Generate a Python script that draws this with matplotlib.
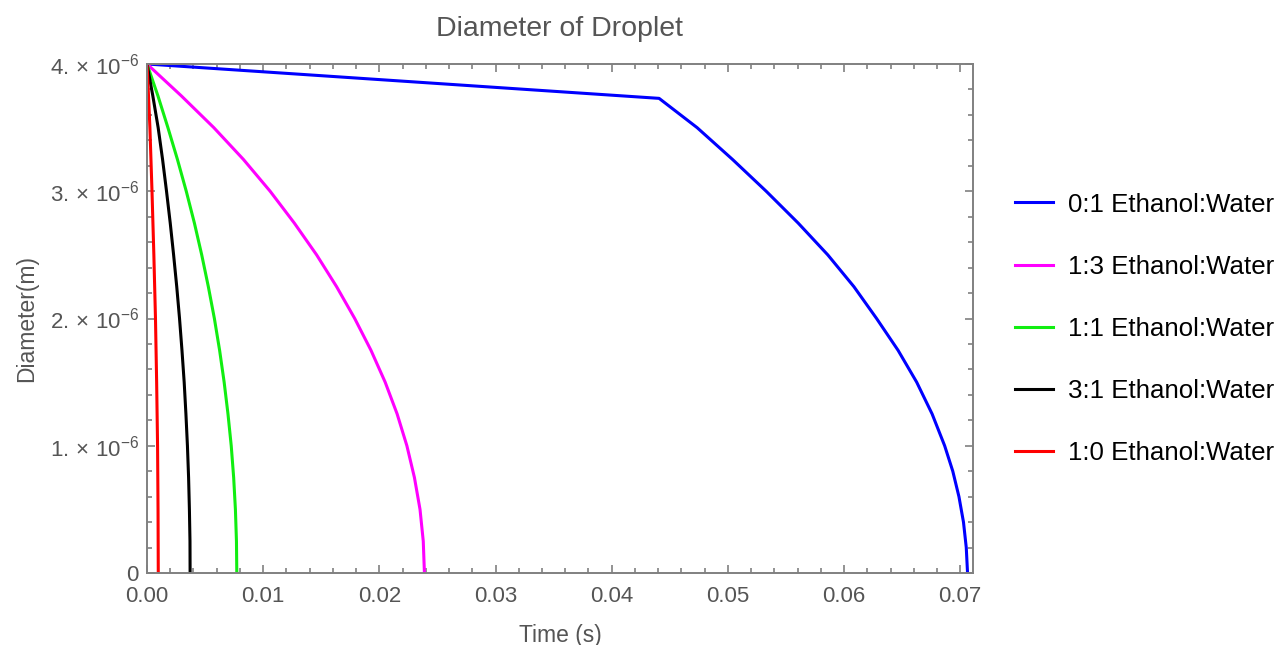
import matplotlib
matplotlib.use("Agg")
import matplotlib.pyplot as plt
from matplotlib.ticker import MultipleLocator, FixedLocator, FixedFormatter

plt.rcParams['font.family'] = ['Liberation Sans', 'DejaVu Sans']
plt.rcParams['mathtext.fontset'] = 'custom'
plt.rcParams['mathtext.rm'] = 'Liberation Sans'
plt.rcParams['mathtext.it'] = 'Liberation Sans'

# ---- data (time in s, diameter in m) ----
t_01 = [0.0, 0.04408, 0.04735, 0.05040, 0.05330, 0.05605, 0.05860, 0.06085, 0.06280,
        0.06465, 0.06625, 0.06758, 0.06866, 0.06936, 0.06989, 0.07028, 0.07052, 0.07063]
d_01 = [4.0e-6, 3.73e-6, 3.50e-6, 3.25e-6, 3.00e-6, 2.75e-6, 2.50e-6, 2.25e-6, 2.00e-6,
        1.75e-6, 1.50e-6, 1.25e-6, 1.00e-6, 0.80e-6, 0.60e-6, 0.40e-6, 0.20e-6, 0.0]

t_13 = [0.0, 0.00295, 0.00575, 0.00830, 0.01060, 0.01268, 0.01460, 0.01632, 0.01788,
        0.01928, 0.02050, 0.02153, 0.02237, 0.02302, 0.02350, 0.02378, 0.02388]
d_13 = [4.0e-6, 3.75e-6, 3.50e-6, 3.25e-6, 3.00e-6, 2.75e-6, 2.50e-6, 2.25e-6, 2.00e-6,
        1.75e-6, 1.50e-6, 1.25e-6, 1.00e-6, 0.75e-6, 0.50e-6, 0.25e-6, 0.0]

t_11 = [0.0, 0.00094, 0.00180, 0.00262, 0.00338, 0.00408, 0.00471, 0.00528, 0.00580,
        0.00625, 0.00664, 0.00697, 0.00725, 0.00746, 0.00761, 0.00770, 0.00773]
d_11 = [4.0e-6, 3.75e-6, 3.50e-6, 3.25e-6, 3.00e-6, 2.75e-6, 2.50e-6, 2.25e-6, 2.00e-6,
        1.75e-6, 1.50e-6, 1.25e-6, 1.00e-6, 0.75e-6, 0.50e-6, 0.25e-6, 0.0]

t_31 = [0.0, 0.00050, 0.00096, 0.00134, 0.00168, 0.00200, 0.00229, 0.00256, 0.00280,
        0.00301, 0.00320, 0.00335, 0.00348, 0.00358, 0.00365, 0.00370, 0.00371]
d_31 = [4.0e-6, 3.75e-6, 3.50e-6, 3.25e-6, 3.00e-6, 2.75e-6, 2.50e-6, 2.25e-6, 2.00e-6,
        1.75e-6, 1.50e-6, 1.25e-6, 1.00e-6, 0.75e-6, 0.50e-6, 0.25e-6, 0.0]

t_10 = [0.0, 0.00013, 0.00025, 0.00043, 0.00059, 0.00073, 0.00083, 0.00091, 0.00095, 0.00097]
d_10 = [4.0e-6, 3.75e-6, 3.50e-6, 3.00e-6, 2.50e-6, 2.00e-6, 1.50e-6, 1.00e-6, 0.50e-6, 0.0]

labels = ["0:1 Ethanol:Water", "1:3 Ethanol:Water", "1:1 Ethanol:Water",
          "3:1 Ethanol:Water", "1:0 Ethanol:Water"]
colors = ["#0000ff", "#ff00ff", "#11ee11", "#000000", "#ff0000"]

y_ticks = [0.0, 1e-6, 2e-6, 3e-6, 4e-6]
y_ticklabels = ["0", r"1.$\,\times\,$10$^{-6}$", r"2.$\,\times\,$10$^{-6}$",
                r"3.$\,\times\,$10$^{-6}$", r"4.$\,\times\,$10$^{-6}$"]
x_ticks = [0.0, 0.01, 0.02, 0.03, 0.04, 0.05, 0.06, 0.07]
x_ticklabels = ["0.00", "0.01", "0.02", "0.03", "0.04", "0.05", "0.06", "0.07"]

series_t = [t_01, t_13, t_11, t_31, t_10]
series_d = [d_01, d_13, d_11, d_31, d_10]

fig = plt.figure(figsize=(12.81, 6.45), dpi=100)
ax = fig.add_axes([147/1281, 1-573/645, (973-147)/1281, (573-64)/645])

for t, d, c, lab in zip(series_t, series_d, colors, labels):
    ax.plot(t, d, color=c, lw=2.2, label=lab, solid_joinstyle='round')

ax.set_xlim(0, 0.0711)
ax.set_ylim(0, 4e-6)

ax.xaxis.set_major_locator(FixedLocator(x_ticks))
ax.xaxis.set_major_formatter(FixedFormatter(x_ticklabels))
ax.xaxis.set_minor_locator(MultipleLocator(0.002))
ax.yaxis.set_major_locator(FixedLocator(y_ticks))
ax.yaxis.set_major_formatter(FixedFormatter(y_ticklabels))
ax.yaxis.set_minor_locator(MultipleLocator(0.2e-6))

gray = "#808080"
txt = "#555555"
for s in ax.spines.values():
    s.set_color(gray)
    s.set_linewidth(1.4)
ax.tick_params(which='both', direction='in', top=True, right=True, color=gray,
               labelcolor=txt, labelsize=16, width=1.2)
ax.tick_params(which='major', length=6)
ax.tick_params(which='minor', length=3.5)
ax.tick_params(axis='x', pad=9.5)
ax.tick_params(axis='y', pad=6)

ax.set_title("Diameter of Droplet", fontsize=20.5, color=txt, pad=20.5)
ax.set_xlabel("Time (s)", fontsize=16.5, color=txt, labelpad=12)
ax.set_ylabel("Diameter(m)", fontsize=16.5, color=txt, labelpad=8)

leg = ax.legend(loc='center left', bbox_to_anchor=(1005/1281, 1-329/645),
                bbox_transform=fig.transFigure, frameon=False, fontsize=18.6,
                handlelength=1.47, handletextpad=0.58, labelspacing=1.48,
                borderaxespad=0)
for line in leg.get_lines():
    line.set_linewidth(2.2)

fig.savefig("out.png", dpi=100)
